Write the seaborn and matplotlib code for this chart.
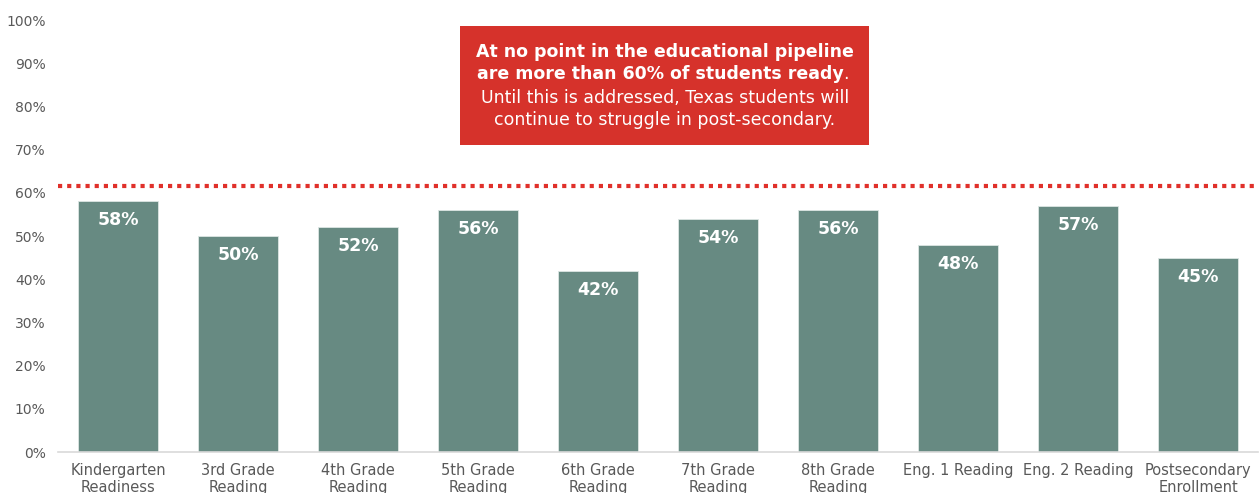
import matplotlib
matplotlib.use("Agg")
import matplotlib.pyplot as plt
from matplotlib.text import Annotation
import seaborn as sns
import pandas as pd
from matplotlib.ticker import PercentFormatter

categories = [
    "Kindergarten\nReadiness", "3rd Grade\nReading", "4th Grade\nReading",
    "5th Grade\nReading", "6th Grade\nReading", "7th Grade\nReading",
    "8th Grade\nReading", "Eng. 1 Reading", "Eng. 2 Reading",
    "Postsecondary\nEnrollment",
]
ready_pct = [58, 50, 52, 56, 42, 54, 56, 48, 57, 45]
threshold = 61.6
callout_bold = ["At no point in the educational pipeline",
                "are more than 60% of students ready"]
callout_rest = "Until this is addressed, Texas students will\ncontinue to struggle in post-secondary."

sns.set_style("white")
plt.rcParams["font.family"] = ["DejaVu Sans"]

df = pd.DataFrame({"stage": categories, "pct": ready_pct})

fig = plt.figure(figsize=(12.6, 4.93), dpi=100)
ax = fig.add_axes([58 / 1260, 41 / 493, 1200 / 1260, 432 / 493])

bar_color = "#678A82"
sns.barplot(data=df, x="stage", y="pct", color=bar_color, width=0.66,
            saturation=1, edgecolor="#DDE6E3", linewidth=0.6, ax=ax)

for i, v in enumerate(ready_pct):
    ax.text(i, v - 4.4, f"{v}%", ha="center", va="center", color="white",
            fontsize=12.5, fontweight="bold")

ax.axhline(threshold, color="#E0302A", linewidth=3, linestyle=(0, (1, 1.2)),
           zorder=3, clip_on=False)

ax.set_ylim(0, 100)
ax.set_xlim(-0.5, len(categories) - 0.5)
ax.set_yticks(range(0, 101, 10))
ax.yaxis.set_major_formatter(PercentFormatter(decimals=0))
ax.set_xlabel("")
ax.set_ylabel("")
ax.tick_params(axis="y", labelsize=10, colors="#595959", length=0, pad=9)
ax.tick_params(axis="x", labelsize=10.5, colors="#595959", length=0, pad=8)
for lbl in ax.get_xticklabels():
    lbl.set_linespacing(1.15)

for side in ["top", "right", "left"]:
    ax.spines[side].set_visible(False)
ax.spines["bottom"].set_color("#D9D9D9")
ax.spines["bottom"].set_linewidth(1.2)

# callout box with a bold headline and a regular follow-up sentence
box = plt.Rectangle((460 / 1260, 1 - 145 / 493), 409 / 1260, 119 / 493,
                    transform=fig.transFigure, facecolor="#D6322B",
                    edgecolor="none", zorder=5)
fig.patches.append(box)
fig.text(665 / 1260, 1 - 52 / 493, callout_bold[0], ha="center", va="center",
         color="white", fontsize=12.5, fontweight="bold", zorder=6)
line2 = fig.text(660 / 1260, 1 - 74 / 493, callout_bold[1], ha="center",
                 va="center", color="white", fontsize=12.5, fontweight="bold",
                 zorder=6)
period = Annotation(".", xy=(1, 0), xycoords=line2, ha="left", va="bottom",
                    color="white", fontsize=12.5, zorder=6)
fig.add_artist(period)
fig.text(665 / 1260, 1 - 109 / 493, callout_rest, ha="center", va="center",
         color="white", fontsize=12.5, linespacing=1.25, zorder=6)

fig.savefig("out.png", dpi=100)
